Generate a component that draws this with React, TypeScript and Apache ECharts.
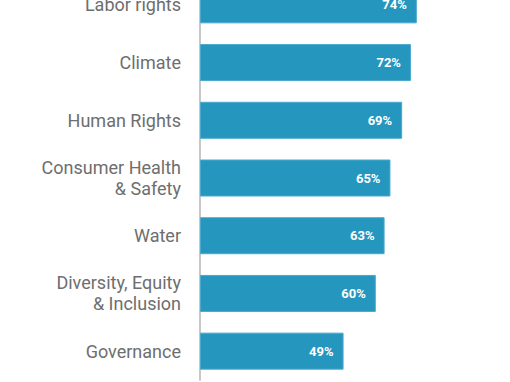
import React, { useEffect, useRef } from "react";
import * as echarts from "echarts";

const categories = [
  "Labor rights",
  "Climate",
  "Human Rights",
  "Consumer Health\n& Safety",
  "Water",
  "Diversity, Equity\n& Inclusion",
  "Governance",
];
const values = [74, 72, 69, 65, 63, 60, 49];

export default function App() {
  const ref = useRef<HTMLDivElement>(null);
  useEffect(() => {
    if (!ref.current) return;
    const chart = echarts.init(ref.current, null, { renderer: "svg" });
    chart.setOption({
      animation: false,
      grid: { left: 200, right: 17, top: 0, height: 404 },
      xAxis: {
        type: "value",
        min: 0,
        max: 100,
        show: false,
      },
      yAxis: {
        type: "category",
        data: categories,
        inverse: true,
        axisLine: { show: true, lineStyle: { color: "#c8c8c8", width: 2 } },
        axisTick: { show: false },
        axisLabel: {
          color: "#6e6e6e",
          fontSize: 18,
          fontFamily: "Roboto",
          margin: 19,
          lineHeight: 21,
          align: "right",
        },
      },
      series: [
        {
          type: "bar",
          data: values,
          barWidth: 37,
          itemStyle: { color: "#2596be", borderColor: "#4aa9cc", borderWidth: 1 },
          label: {
            show: true,
            position: "insideRight",
            distance: 10,
            formatter: "{c}%",
            color: "#ffffff",
            fontSize: 13,
            fontWeight: "bold",
            fontFamily: "Roboto",
          },
        },
      ],
    });
    return () => chart.dispose();
  }, []);
  return (
    <div style={{ position: "absolute", left: 0, top: 0, width: 510, height: 382, overflow: "hidden" }}>
      <div ref={ref} style={{ width: 510, height: 410, position: "absolute", left: 0, top: -24 }} />
    </div>
  );
}
